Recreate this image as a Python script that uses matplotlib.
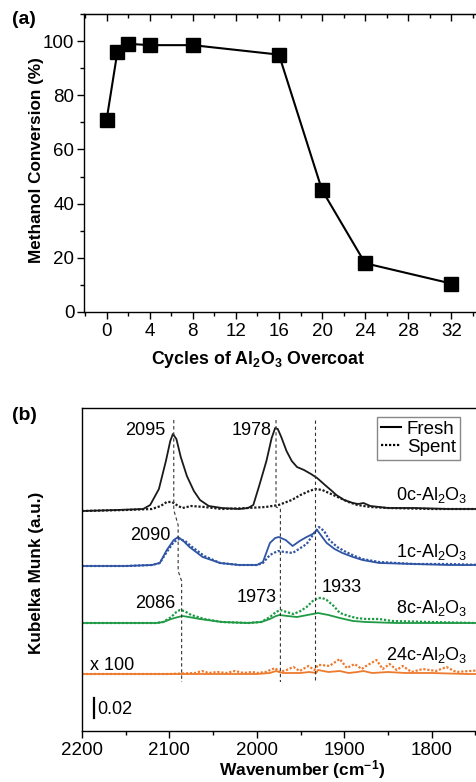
import matplotlib
matplotlib.use("Agg")
from matplotlib import pyplot as plt
from matplotlib.ticker import MultipleLocator

plt.rcParams['font.family'] = ['Liberation Sans', 'DejaVu Sans']
plt.rcParams['mathtext.fontset'] = 'custom'
plt.rcParams['mathtext.rm'] = 'Liberation Sans'
plt.rcParams['mathtext.bf'] = 'Liberation Sans:bold'
plt.rcParams['mathtext.default'] = 'regular'

# ---- panel (a): methanol conversion vs ALD cycles
cycles = [0, 1, 2, 4, 8, 16, 20, 24, 32]
conversion = [71, 96, 99, 98.5, 98.5, 95, 45, 18, 10.5]

# ---- panel (b): DRIFTS spectra (Kubelka-Munk, relative to own baseline)
wn_0c_fresh = [2200, 2160, 2130, 2122, 2112, 2104, 2099, 2096, 2092, 2087, 2080, 2072, 2065,
               2055, 2040, 2020, 2010, 2004, 1997, 1989, 1983, 1979, 1976, 1972, 1966, 1960,
               1954, 1946, 1938, 1931, 1922, 1914, 1909, 1900, 1890, 1884, 1878, 1870, 1850,
               1820, 1780, 1740, 1700]
km_0c_fresh = [-0.002, -0.001, 0.000, 0.004, 0.020, 0.048, 0.068, 0.075, 0.070, 0.052, 0.033,
               0.018, 0.009, 0.003, 0.001, 0.000, 0.001, 0.004, 0.024, 0.048, 0.071, 0.081,
               0.080, 0.072, 0.058, 0.048, 0.042, 0.039, 0.035, 0.031, 0.024, 0.018, 0.014,
               0.009, 0.006, 0.005, 0.006, 0.003, 0.001, 0.001, 0.000, 0.000, -0.001]
wn_0c_spent = [2200, 2150, 2120, 2110, 2103, 2097, 2090, 2085, 2075, 2060, 2040, 2010, 1990,
               1975, 1960, 1950, 1940, 1933, 1925, 1915, 1905, 1895, 1885, 1870, 1850, 1800,
               1750, 1700]
km_0c_spent = [-0.002, -0.001, 0.000, 0.003, 0.007, 0.007, 0.003, 0.001, 0.003, 0.002, 0.000,
               0.001, 0.002, 0.004, 0.009, 0.014, 0.018, 0.020, 0.019, 0.015, 0.011, 0.007,
               0.004, 0.002, 0.001, 0.000, 0.000, -0.001]

wn_1c_fresh = [2200, 2150, 2120, 2111, 2103, 2095, 2090, 2084, 2077, 2062, 2042, 2020, 2000,
               1993, 1985, 1979, 1975, 1967, 1959, 1951, 1943, 1936, 1931, 1926, 1920, 1911,
               1902, 1890, 1879, 1860, 1820, 1780, 1740, 1700]
km_1c_fresh = [-0.001, -0.001, 0.000, 0.002, 0.015, 0.025, 0.028, 0.024, 0.018, 0.008, 0.002,
               0.000, 0.000, 0.003, 0.022, 0.027, 0.028, 0.025, 0.019, 0.024, 0.028, 0.031,
               0.035, 0.029, 0.022, 0.016, 0.012, 0.008, 0.005, 0.002, 0.001, 0.000, 0.000,
               -0.001]
wn_1c_spent = [2200, 2150, 2120, 2111, 2103, 2095, 2089, 2082, 2074, 2060, 2042, 2020, 2000,
               1993, 1985, 1976, 1968, 1959, 1950, 1943, 1935, 1929, 1923, 1917, 1908, 1898,
               1888, 1879, 1860, 1820, 1780, 1740, 1700]
km_1c_spent = [-0.001, -0.001, 0.000, 0.002, 0.013, 0.023, 0.026, 0.024, 0.018, 0.009, 0.002,
               0.000, 0.000, 0.002, 0.010, 0.014, 0.013, 0.012, 0.017, 0.021, 0.031, 0.038,
               0.034, 0.025, 0.018, 0.013, 0.009, 0.006, 0.003, 0.001, 0.001, 0.000, -0.001]

wn_8c_fresh = [2200, 2150, 2115, 2107, 2098, 2090, 2085, 2078, 2065, 2040, 2010, 1995, 1985,
               1978, 1974, 1965, 1954, 1942, 1930, 1918, 1905, 1890, 1875, 1840, 1780, 1700]
km_8c_fresh = [0.000, 0.000, 0.000, 0.001, 0.004, 0.006, 0.007, 0.006, 0.004, 0.001, 0.000,
               0.001, 0.004, 0.007, 0.008, 0.007, 0.006, 0.008, 0.010, 0.008, 0.005, 0.002,
               0.001, 0.000, 0.000, 0.000]
wn_8c_spent = [2200, 2150, 2115, 2107, 2098, 2092, 2088, 2083, 2075, 2060, 2040, 2010, 1995,
               1985, 1978, 1973, 1966, 1958, 1950, 1943, 1936, 1930, 1925, 1920, 1912, 1905,
               1895, 1886, 1875, 1860, 1845, 1800, 1750, 1700]
km_8c_spent = [0.000, 0.000, 0.000, 0.001, 0.006, 0.011, 0.013, 0.012, 0.008, 0.004, 0.001,
               0.000, 0.001, 0.006, 0.011, 0.013, 0.011, 0.009, 0.012, 0.016, 0.022, 0.025,
               0.025, 0.023, 0.017, 0.010, 0.007, 0.005, 0.004, 0.004, 0.002, 0.001, 0.000,
               0.000]

wn_24c_fresh = [2200, 2100, 2000, 1985, 1978, 1970, 1950, 1940, 1932, 1930, 1918, 1905, 1895,
                1885, 1878, 1868, 1850, 1830, 1800, 1760, 1700]
km_24c_fresh = [0.000, 0.000, 0.000, 0.001, 0.003, 0.001, 0.001, 0.002, 0.001, 0.004, 0.002,
                0.003, 0.001, 0.002, 0.003, 0.001, 0.002, 0.001, 0.001, 0.000, 0.000]
wn_24c_spent = [2200, 2100, 2070, 2063, 2055, 2045, 2035, 2025, 2015, 2005, 2000, 1990, 1979,
                1974, 1966, 1958, 1951, 1941, 1934, 1930, 1926, 1917, 1905, 1897, 1888, 1880,
                1875, 1863, 1856, 1848, 1840, 1833, 1823, 1810, 1795, 1783, 1772, 1756, 1740,
                1720, 1700]
km_24c_spent = [0.000, 0.000, 0.001, 0.003, 0.001, 0.002, 0.001, 0.003, 0.001, 0.002, 0.001,
                0.002, 0.006, 0.002, 0.004, 0.007, 0.003, 0.008, 0.004, 0.009, 0.009, 0.008,
                0.015, 0.006, 0.010, 0.005, 0.008, 0.014, 0.005, 0.010, 0.004, 0.008, 0.002,
                0.005, 0.003, 0.007, 0.002, 0.003, 0.004, 0.002, 0.003]

samples = ['0c', '1c', '8c', '24c']
offsets = [0.222, 0.166, 0.108, 0.057]
colors = ['#1a1a1a', '#2f55a4', '#1f9a45', '#ee7a2e']
fresh = [(wn_0c_fresh, km_0c_fresh), (wn_1c_fresh, km_1c_fresh),
         (wn_8c_fresh, km_8c_fresh), (wn_24c_fresh, km_24c_fresh)]
spent = [(wn_0c_spent, km_0c_spent), (wn_1c_spent, km_1c_spent),
         (wn_8c_spent, km_8c_spent), (wn_24c_spent, km_24c_spent)]

# dashed guide lines (wavenumber, KM) polylines
guide_1 = ([2095, 2095, 2090, 2090, 2086, 2086], [0.311, 0.221, 0.206, 0.160, 0.150, 0.049])
guide_2 = ([1978, 1978, 1973, 1973], [0.311, 0.224, 0.222, 0.049])
guide_3 = ([1933, 1933], [0.311, 0.049])

peak_labels = [('2095', 2105, 0.301, 'right'), ('1978', 1983, 0.301, 'right'),
               ('2090', 2099, 0.196, 'right'), ('2086', 2093, 0.128, 'right'),
               ('1973', 1977, 0.134, 'right'), ('1933', 1926, 0.143, 'left')]

fig = plt.figure(figsize=(4.76, 7.82), dpi=100)

# ------------------------------------------------------------- (a)
ax1 = fig.add_axes([84 / 476, 1 - 312 / 782, 433 / 476, 298 / 782])
ax1.plot(cycles, conversion, color='black', lw=1.5, marker='s', markersize=9.5,
         markerfacecolor='black', markeredgecolor='black', clip_on=False, zorder=3)
ax1.set_xlim(-2.1, 38.1)
ax1.set_ylim(0, 110)
ax1.set_xticks([0, 4, 8, 12, 16, 20, 24, 28, 32])
ax1.xaxis.set_minor_locator(MultipleLocator(2))
ax1.set_yticks([0, 20, 40, 60, 80, 100])
ax1.yaxis.set_minor_locator(MultipleLocator(10))
ax1.tick_params(axis='x', which='both', direction='out', labelsize=13.5, pad=3)
ax1.tick_params(axis='y', which='both', direction='out', labelsize=13.5, pad=2)
ax1.tick_params(which='major', length=5, width=1)
ax1.tick_params(which='minor', length=3, width=1)
for sp in ax1.spines.values():
    sp.set_linewidth(1.0)
ax1.set_xlabel('Cycles of Al$_\\mathbf{2}$O$_\\mathbf{3}$ Overcoat', fontsize=12.8,
               fontweight='bold')
ax1.xaxis.set_label_coords(174 / 433, -0.125)
ax1.set_ylabel('Methanol Conversion (%)', fontsize=12.3, fontweight='bold')
ax1.yaxis.set_label_coords(-40 / 433, 0.51)
fig.text(12 / 476, 1 - 20 / 782, '(a)', fontsize=14, fontweight='bold', va='center')

# top ticks inward
ax1t = ax1.secondary_xaxis('top')
ax1t.set_xticks([0, 4, 8, 12, 16, 20, 24, 28, 32])
ax1t.xaxis.set_minor_locator(MultipleLocator(2))
ax1t.tick_params(which='both', direction='in', labeltop=False)
ax1t.tick_params(which='major', length=5, width=1)
ax1t.tick_params(which='minor', length=3, width=1)

# ------------------------------------------------------------- (b)
ax2 = fig.add_axes([82 / 476, 1 - 731 / 782, 437 / 476, 323 / 782])
ax2.set_xlim(2200, 1700)
ax2.set_ylim(0, 0.323)
for (wf, kf), (ws, ks), off, c in zip(fresh, spent, offsets, colors):
    ax2.plot(wf, [v + off for v in kf], color=c, lw=1.3, ls='-')
    ax2.plot(ws, [v + off for v in ks], color=c, lw=1.6, ls=(0, (1, 0.8)))

for gx, gy in (guide_1, guide_2, guide_3):
    ax2.plot(gx, gy, color='#333333', lw=0.8, ls=(0, (3, 2.5)))

for txt, x, y, ha in peak_labels:
    ax2.text(x, y, txt, fontsize=13, ha=ha, va='center')

sample_y = [0.236, 0.179, 0.123, 0.076]
for s, y in zip(samples, sample_y):
    ax2.text(1759, y, s + '-Al$_2$O$_3$', fontsize=13, ha='right', va='center')
ax2.text(2191, 0.066, 'x 100', fontsize=13, ha='left', va='center')

# scale bar 0.02
ax2.plot([2186, 2186], [0.013, 0.033], color='black', lw=1.6)
ax2.text(2183, 0.022, '0.02', fontsize=13, ha='left', va='center')

ax2.plot([], [], color='black', lw=1.5, ls='-', label='Fresh')
ax2.plot([], [], color='black', lw=1.6, ls=(0, (1, 0.8)), label='Spent')
leg = ax2.legend(loc='upper left', bbox_to_anchor=(295 / 437, 0.972), fontsize=13.5,
                 handlelength=1.1, handletextpad=0.3, borderpad=0.2, labelspacing=0.05,
                 borderaxespad=0, fancybox=False, framealpha=1)
leg.get_frame().set_edgecolor('#888888')
leg.get_frame().set_linewidth(1.0)

ax2.set_xticks([2200, 2100, 2000, 1900, 1800])
ax2.xaxis.set_minor_locator(MultipleLocator(50))
ax2.set_yticks([])
ax2.tick_params(axis='x', which='both', direction='out', labelsize=13.5, pad=3)
ax2.tick_params(which='major', length=5, width=1)
ax2.tick_params(which='minor', length=3, width=1)
for sp in ax2.spines.values():
    sp.set_linewidth(1.0)
ax2.set_xlabel('Wavenumber (cm$^{\\mathbf{-1}}$)', fontsize=12.5, fontweight='bold')
ax2.xaxis.set_label_coords(220 / 437, -0.085)
ax2.set_ylabel('Kubelka Munk (a.u.)', fontsize=12.3, fontweight='bold')
ax2.yaxis.set_label_coords(-38 / 437, 0.49)
fig.text(12 / 476, 1 - 415 / 782, '(b)', fontsize=14, fontweight='bold', va='center')

fig.savefig('out.png', dpi=100)
